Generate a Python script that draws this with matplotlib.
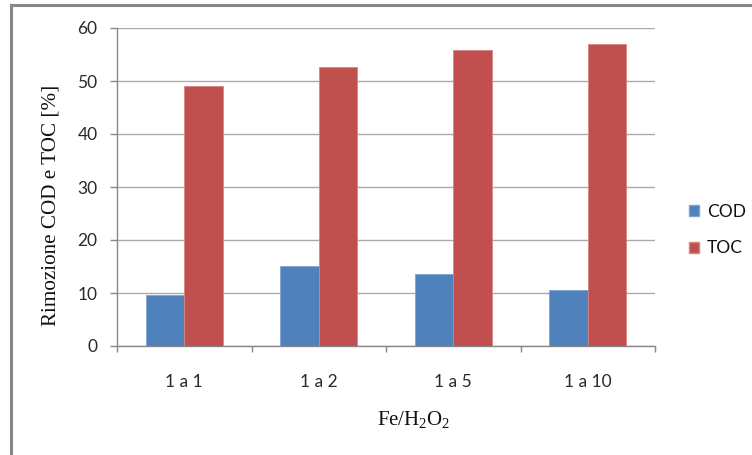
import matplotlib
matplotlib.use("Agg")
import matplotlib.pyplot as plt
from matplotlib.lines import Line2D
from matplotlib.patches import Patch
import numpy as np

plt.rcParams['mathtext.default'] = 'regular'

categories = ["1 a 1", "1 a 2", "1 a 5", "1 a 10"]
cod = [9.6, 15.1, 13.5, 10.5]
toc = [49.0, 52.7, 55.9, 56.9]
yticks = [0, 10, 20, 30, 40, 50, 60]

W, H = 752, 455
fig = plt.figure(figsize=(W / 100, H / 100), dpi=100)
ax = fig.add_axes([117 / W, 1 - 346 / H, (655 - 117) / W, (346 - 28) / H])

x = np.arange(len(categories))
bw = 1 / 3.5
ax.bar(x - bw / 2, cod, bw, color="#4F81BD", edgecolor="#7FA3CF", linewidth=0.6, zorder=3)
ax.bar(x + bw / 2, toc, bw, color="#C0504D", edgecolor="#D98482", linewidth=0.6, zorder=3)

ax.set_xlim(-0.5, len(categories) - 0.5)
ax.set_ylim(0, 60)
ax.set_yticks(yticks)
ax.set_yticklabels([str(v) for v in yticks], family="Lato")
ax.yaxis.grid(True, color="#AAAAAA", linewidth=1.0, zorder=0)

# category ticks sit on the boundaries between groups
ax.set_xticks(np.arange(len(categories) + 1) - 0.5)
ax.set_xticklabels([])
ax.set_xticks(x, minor=True)
ax.set_xticklabels(categories, minor=True, family="Lato")
ax.tick_params(axis="x", which="major", direction="out", length=4.3, color="#888888", width=1)
ax.tick_params(axis="x", which="minor", length=0, pad=20, labelsize=12.5, labelcolor="#2A2A2A")
ax.tick_params(axis="y", direction="out", length=5, color="#888888", width=1,
               pad=9, labelsize=12.5, labelcolor="#2A2A2A")

for s in ["top", "right"]:
    ax.spines[s].set_visible(False)
for s in ["left", "bottom"]:
    ax.spines[s].set_color("#888888")
    ax.spines[s].set_linewidth(1)

fig.text(51 / W, 1 - 205 / H, "Rimozione COD e TOC [%]", rotation=90,
         ha="center", va="center", family="Liberation Serif", fontsize=15.2, color="#111111")
fig.text(414 / W, 1 - 420 / H, r"Fe/H$_2$O$_2$", ha="center", va="center",
         family="Liberation Serif", fontsize=15, color="#111111")

handles = [Patch(facecolor="#4F81BD", edgecolor="#7FA3CF"),
           Patch(facecolor="#C0504D", edgecolor="#D98482")]
leg = fig.legend(handles, ["COD", "TOC"], loc="center left",
                 bbox_to_anchor=(673 / W, 1 - 230 / H), frameon=False,
                 prop={"family": "Lato", "size": 12.5}, handlelength=0.62, handleheight=0.62,
                 handletextpad=0.45, labelspacing=1.2)
for t in leg.get_texts():
    t.set_color("#111111")

# outer chart frame
fig.add_artist(Line2D([11 / W, 11 / W], [0, 1 - 5 / H], color="#888888", linewidth=2.2))
fig.add_artist(Line2D([11 / W, 1], [1 - 5 / H, 1 - 5 / H], color="#888888", linewidth=2.2))

fig.savefig("out.png", dpi=100)
